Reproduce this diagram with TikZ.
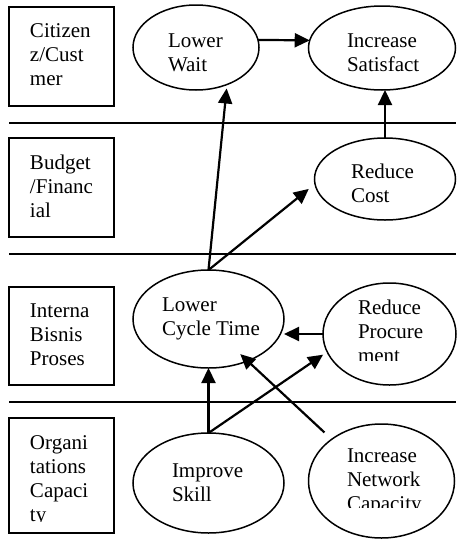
\documentclass[tikz,border=0pt]{standalone}
\usepackage{fontspec}
\setmainfont{Liberation Serif}
\usetikzlibrary{shapes.geometric,arrows.meta}
\newcommand\stk[1]{\vtop{\baselineskip=24.2pt\lineskiplimit=-20pt\lineskip=0pt\halign{##\hfil\cr#1\crcr}}}
\begin{document}
\begin{tikzpicture}[x=1pt,y=-1pt,
 ell/.style={ellipse, draw, line width=1.5pt, inner sep=0pt, outer sep=0pt},
 txt/.style={anchor=base west, inner sep=0pt, outer sep=0pt, font=\fontsize{21pt}{24.2pt}\selectfont},
 arr/.style={line width=2.2pt, -{Triangle[length=15pt,width=14pt]}},
 sep/.style={line width=1.5pt},
 lbox/.style={line width=2pt}]
\useasboundingbox (0,0) rectangle (456,544);
% lane separators
\draw[sep] (9,123) -- (456,123);
\draw[sep] (9,254) -- (456,254);
\draw[sep] (9,402) -- (456,402);
% lane label boxes
\draw[lbox] (9,7) rectangle (114,106);
\draw[lbox] (9,138) rectangle (114,237);
\draw[lbox] (9,287) rectangle (114,385);
\draw[lbox] (9,418) rectangle (114,533);
% ellipses
\node[ell, minimum width=126pt, minimum height=85pt] (LW) at (196,47.5) {};
\node[ell, minimum width=147pt, minimum height=84pt] (IS) at (382,48) {};
\node[ell, minimum width=141pt, minimum height=82pt] (RC) at (385,179) {};
\node[ell, minimum width=151pt, minimum height=98pt] (LCT) at (208.5,319) {};
\node[ell, minimum width=133pt, minimum height=102pt] (RP) at (389.5,334) {};
\node[ell, minimum width=151pt, minimum height=100pt] (SK) at (208.5,483) {};
\node[ell, minimum width=146pt, minimum height=114pt] (NC) at (381.5,481) {};
% texts
\node[txt] (tB1) at (30,37.3) {\stk{Citizen\cr z/Cust\cr mer}};
\node[txt] (tB2) at (30,169) {\stk{Budget\cr /Financ\cr ial}};
\node[txt] (tB3) at (30,317) {\stk{Interna\cr Bisnis\cr Proses}};
\begin{scope}
\clip (0,0) rectangle (456,521);
\node[txt] (tB4) at (30,449) {\stk{Organi\cr tations\cr Capaci\cr ty}};
\end{scope}
\node[txt] (tLW) at (168,47) {\stk{Lower\cr Wait}};
\node[txt] (tIS) at (347,47) {\stk{Increase\cr Satisfact}};
\node[txt] (tRC) at (351,178) {\stk{Reduce\cr Cost}};
\node[txt] (tLCT) at (162,311.5) {\stk{Lower\cr Cycle Time}};
\begin{scope}
\clip (0,0) rectangle (456,360);
\node[txt] (tRP) at (358,314) {\stk{Reduce\cr Procure\cr ment}};
\end{scope}
\node[txt] (tSK) at (172,477) {\stk{Improve\cr Skill}};
\begin{scope}
\clip (0,0) rectangle (456,507);
\node[txt] (tNC) at (347,462) {\stk{Increase\cr Network\cr Capacity}};
\end{scope}
% connectors
\draw[arr] (LW.7) -- (IS.174);
\draw[arr, shorten >=4pt] (LCT.north) -- (LW.310);
\draw[arr, shorten >=8pt] (LCT.north) -- (RC.184);
\draw[arr] (RC.north) -- (RC.north |- IS.south);
\draw[arr] (RP.west) -- (RP.west -| LCT.east);
\draw[arr] (SK.north) -- (LCT.south);
\draw[arr, shorten >=5pt] (SK.north) -- (RP.196);
\draw[arr, shorten <=10pt, shorten >=-10pt] (NC.140) -- (LCT.313);
\end{tikzpicture}
\end{document}
